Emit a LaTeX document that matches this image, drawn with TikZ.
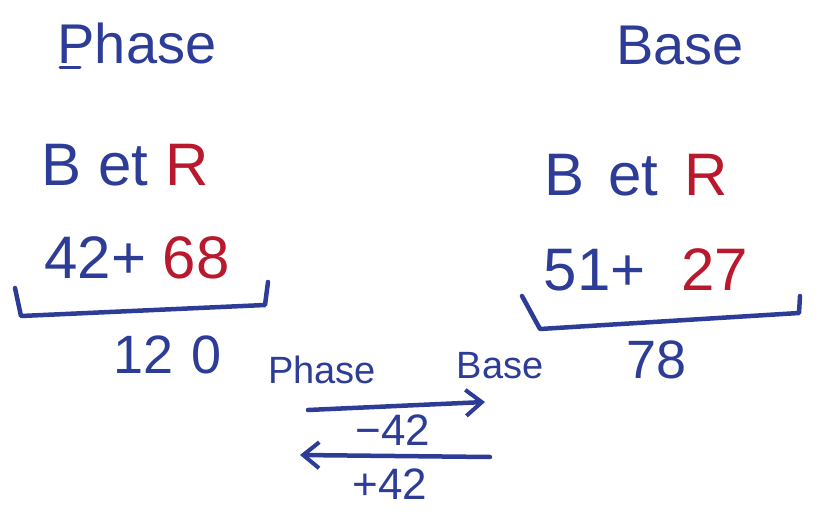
\documentclass[tikz,border=0pt]{standalone}
\usepackage{fontspec}
\setmainfont{Liberation Sans}
\usetikzlibrary{arrows.meta}
\definecolor{inkblue}{RGB}{45,60,150}
\definecolor{inkred}{RGB}{185,25,45}
\tikzset{big/.style={inner sep=0pt,font=\fontsize{60}{66}\selectfont},
  small/.style={inner sep=0pt,font=\fontsize{38}{42}\selectfont},
  flow/.style={-{Straight Barb[length=16pt,width=26pt,line width=4pt]}}}

\begin{document}
\begin{tikzpicture}[x=1pt,y=-1pt,line width=4.5pt,color=inkblue,line cap=round,line join=round]
\useasboundingbox (0,0) rectangle (819,516);
\node[big,font=\fontsize{56}{60}\selectfont] (phase) at (137,43) {Phase};
\node[big,font=\fontsize{56}{60}\selectfont] (base) at (680,46) {Base};
\draw[line width=3pt] (60,68)--(80,68);
\node[big] (bretL) at (125,165) {B et {\color{inkred}R}};
\node[big] (bretR) at (636,175) {B\hspace{24pt}et\hspace{26pt}{\color{inkred}R}};
\node[big] (sumL) at (137,258) {42+ {\color{inkred}68}};
\node[big] (sumR) at (646,270) {51+\hspace{36pt}{\color{inkred}27}};
\draw (15,288)--(21,316)--(265,305)--(268,282) (522,296)--(540,329)--(799,313)--(800,296);
\node[big,font=\fontsize{54}{60}\selectfont] (totL) at (168,355) {12\hspace{18pt}0};
\node[big,font=\fontsize{54}{60}\selectfont] (totR) at (657,360) {78};
\node[small] (phs) at (322,370) {Phase};
\node[small] (bas) at (500,366) {Base};
\coordinate (ra) at (308,410);
\coordinate (rb) at (485,402);
\coordinate (la) at (490,457);
\coordinate (lb) at (300,455);
\draw[flow] (ra)--(rb);
\node[small,font=\fontsize{44}{48}\selectfont] (minus) at (393,430) {−42};
\draw[flow] (la)--(lb);
\node[small,font=\fontsize{44}{48}\selectfont] (plus) at (390,484) {+42};
\end{tikzpicture}
\end{document}
